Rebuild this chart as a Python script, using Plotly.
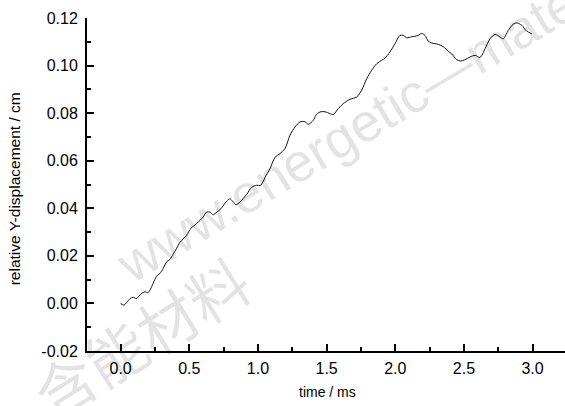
import plotly.graph_objects as go

time_ms = [0.000, 0.024, 0.046, 0.068, 0.092, 0.115, 0.133, 0.153, 0.177, 0.199,
           0.217, 0.237, 0.262, 0.286, 0.310, 0.335, 0.359, 0.383, 0.408, 0.432,
           0.454, 0.481, 0.512, 0.554, 0.602, 0.625, 0.650, 0.674, 0.701, 0.730,
           0.772, 0.796, 0.818, 0.840, 0.869, 0.918, 0.954, 0.991, 1.015, 1.036,
           1.051, 1.087, 1.124, 1.160, 1.197, 1.233, 1.270, 1.306, 1.342, 1.366,
           1.403, 1.422, 1.452, 1.488, 1.524, 1.548, 1.585, 1.621, 1.670, 1.719,
           1.755, 1.792, 1.828, 1.865, 1.901, 1.925, 1.961, 1.998, 2.034, 2.058,
           2.083, 2.119, 2.143, 2.167, 2.192, 2.216, 2.240, 2.265, 2.313, 2.350,
           2.386, 2.411, 2.447, 2.476, 2.508, 2.544, 2.581, 2.617, 2.654, 2.690,
           2.727, 2.763, 2.787, 2.823, 2.859, 2.889, 2.921, 2.957, 2.993]

y_disp_cm = [0.0000, -0.0007, 0.0005, 0.0020, 0.0026, 0.0020, 0.0031, 0.0042, 0.0049, 0.0045,
             0.0060, 0.0085, 0.0115, 0.0126, 0.0147, 0.0175, 0.0185, 0.0207, 0.0232, 0.0257,
             0.0270, 0.0287, 0.0316, 0.0336, 0.0364, 0.0384, 0.0384, 0.0373, 0.0384, 0.0398,
             0.0430, 0.0440, 0.0428, 0.0415, 0.0426, 0.0459, 0.0488, 0.0497, 0.0495, 0.0510,
             0.0529, 0.0566, 0.0614, 0.0630, 0.0651, 0.0707, 0.0742, 0.0763, 0.0764, 0.0753,
             0.0770, 0.0791, 0.0805, 0.0806, 0.0798, 0.0794, 0.0819, 0.0840, 0.0858, 0.0868,
             0.0896, 0.0945, 0.0980, 0.1008, 0.1022, 0.1031, 0.1057, 0.1092, 0.1127, 0.1127,
             0.1117, 0.1121, 0.1123, 0.1127, 0.1135, 0.1127, 0.1103, 0.1095, 0.1089, 0.1079,
             0.1060, 0.1049, 0.1025, 0.1019, 0.1025, 0.1036, 0.1043, 0.1034, 0.1071, 0.1113,
             0.1131, 0.1120, 0.1113, 0.1148, 0.1174, 0.1179, 0.1169, 0.1145, 0.1134]

x_tick_vals = [0.0, 0.5, 1.0, 1.5, 2.0, 2.5, 3.0]
x_tick_text = ["0.0", "0.5", "1.0", "1.5", "2.0", "2.5", "3.0"]
y_tick_vals = [-0.02, 0.00, 0.02, 0.04, 0.06, 0.08, 0.10, 0.12]
y_tick_text = ["-0.02", "0.00", "0.02", "0.04", "0.06", "0.08", "0.10", "0.12"]

FONT = "Liberation Sans, Arial, sans-serif"
PL, PR, PT, PB = 87, 565, 17.7, 350.7  # plot area in pixels
WM = "rgba(0,0,0,0.11)"


def px(xp, yp):
    return (xp - PL) / (PR - PL), (PB - yp) / (PB - PT)


fig = go.Figure()
fig.add_trace(go.Scatter(
    x=time_ms, y=y_disp_cm, mode="lines",
    line=dict(color="#111111", width=1, shape="spline", smoothing=0.8),
    showlegend=False, hoverinfo="skip",
))

# faint watermark
wx, wy = px(460, 65)
fig.add_annotation(text="www.energetic\u2014materials.org.cn", xref="paper", yref="paper",
                   x=wx, y=wy, xanchor="center", yanchor="middle",
                   textangle=-31, showarrow=False,
                   font=dict(family=FONT, size=54, color=WM))
cx, cy = px(140, 335)
fig.add_annotation(text="含能材料", xref="paper", yref="paper",
                   x=cx, y=cy, xanchor="center", yanchor="middle",
                   textangle=-32, showarrow=False,
                   font=dict(family="Noto Sans CJK SC", size=60, color=WM))

# axis titles
tx, ty = px(327, 392)
fig.add_annotation(text="time / ms", xref="paper", yref="paper", x=tx, y=ty,
                   xanchor="center", yanchor="middle", showarrow=False,
                   font=dict(family=FONT, size=14, color="black"))
yx, yy = px(14, 189)
fig.add_annotation(text="relative Y-displacement / cm", xref="paper", yref="paper", x=yx, y=yy,
                   xanchor="center", yanchor="middle", showarrow=False, textangle=-90,
                   font=dict(family=FONT, size=15.5, color="black"))

fig.update_layout(
    width=565, height=406,
    margin=dict(l=87, r=0, t=17.7, b=55.3, pad=0),
    paper_bgcolor="white", plot_bgcolor="rgba(0,0,0,0)",
    font=dict(family=FONT, size=16, color="black"),
)
fig.update_xaxes(
    range=[-0.245, 3.236], tickvals=x_tick_vals, ticktext=x_tick_text, automargin=False,
    showgrid=False, zeroline=False, showline=True, linecolor="black", linewidth=2,
    ticks="inside", ticklen=7, tickwidth=1.5, tickcolor="black",
    minor=dict(dtick=0.25, tick0=0, ticks="inside", ticklen=4, tickwidth=1.5, tickcolor="black"),
    tickfont=dict(size=16), ticklabelstandoff=2,
)
fig.update_yaxes(
    range=[-0.02, 0.12], tickvals=y_tick_vals, ticktext=y_tick_text, automargin=False,
    showgrid=False, zeroline=False, showline=True, linecolor="black", linewidth=2,
    ticks="inside", ticklen=7, tickwidth=1.5, tickcolor="black",
    minor=dict(dtick=0.01, tick0=0, ticks="inside", ticklen=4, tickwidth=1.5, tickcolor="black"),
    tickfont=dict(size=16), ticklabelstandoff=4,
)

fig.write_html("out.html", config={"displayModeBar": False},
               post_script="document.body.style.margin='0';document.body.style.padding='0';"
                           "document.body.style.overflow='hidden';")
